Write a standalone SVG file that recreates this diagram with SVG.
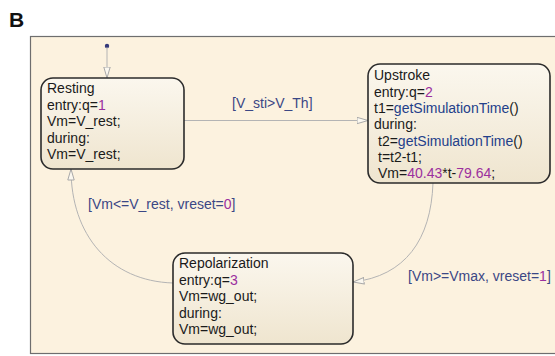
<svg xmlns="http://www.w3.org/2000/svg" width="555" height="356" viewBox="0 0 555 356">
<style>
text{font-family:"Liberation Sans",Arial,sans-serif;font-size:14px;fill:#1a1a1a}
.lbl{fill:#3b4785}
.num{fill:#9b2f9e}
.fn{fill:#23408a}
.box{fill:url(#g);stroke:#2b2b2b;stroke-width:1.6}
.conn{fill:none;stroke:#b4b4b4;stroke-width:1}
</style>
<defs>
<linearGradient id="g" x1="0" y1="0" x2="0" y2="1">
<stop offset="0" stop-color="#fbf7ee"/>
<stop offset="1" stop-color="#efe5cf"/>
</linearGradient>
<marker id="ah" viewBox="0 0 12 8" refX="11.5" refY="4" markerWidth="12" markerHeight="8" markerUnits="userSpaceOnUse" orient="auto">
<path d="M0.5,0.8 L11.5,4 L0.5,7.2 Z" fill="#fbf8f0" stroke="#a8a8a8" stroke-width="1"/>
</marker>
</defs>
<rect width="555" height="356" fill="#ffffff"/>
<text x="9" y="27" style="font-size:21px;font-weight:bold;fill:#111">B</text>
<rect x="30.5" y="36.5" width="540" height="317" fill="#fcf2df" stroke="#6e6e6e" stroke-width="1.2"/>
<g id="connectors">
<circle cx="107" cy="46" r="2.2" fill="#34397a"/>
<path class="conn" d="M107,47 L107,78" marker-end="url(#ah)"/>
<path class="conn" d="M184,120.5 L368,120.5" marker-end="url(#ah)"/>
<path class="conn" d="M433,183 C431,240 405,276 353,282" marker-end="url(#ah)"/>
<path class="conn" d="M173,283 C110,281 71,235 71,169" marker-end="url(#ah)"/>
<text class="lbl" x="232" y="108">[V_sti&gt;V_Th]</text>
<text class="lbl" x="408" y="281">[Vm&gt;=Vmax, vreset=<tspan class="num">1</tspan>]</text>
<text class="lbl" x="88" y="209">[Vm&lt;=V_rest, vreset=<tspan class="num">0</tspan>]</text>
</g>
<g id="resting">
<rect class="box" x="41" y="78" width="143" height="91" rx="12"/>
<text x="47" y="93">Resting</text>
<text x="47" y="110">entry:q=<tspan class="num">1</tspan></text>
<text x="47" y="126">Vm=V_rest;</text>
<text x="47" y="143">during:</text>
<text x="47" y="159">Vm=V_rest;</text>
</g>
<g id="upstroke">
<rect class="box" x="368" y="64" width="182" height="119" rx="12"/>
<text x="374" y="80">Upstroke</text>
<text x="374" y="97">entry:q=<tspan class="num">2</tspan></text>
<text x="374" y="113">t1=<tspan class="fn">getSimulationTime</tspan>()</text>
<text x="374" y="129">during:</text>
<text x="378" y="146">t2=<tspan class="fn">getSimulationTime</tspan>()</text>
<text x="378" y="162">t=t2-t1;</text>
<text x="378" y="178">Vm=<tspan class="num">40.43</tspan>*t-<tspan class="num">79.64</tspan>;</text>
</g>
<g id="repolarization">
<rect class="box" x="173" y="253" width="180" height="91" rx="12"/>
<text x="179" y="268">Repolarization</text>
<text x="179" y="285">entry:q=<tspan class="num">3</tspan></text>
<text x="179" y="301">Vm=wg_out;</text>
<text x="179" y="318">during:</text>
<text x="179" y="334">Vm=wg_out;</text>
</g>
</svg>
